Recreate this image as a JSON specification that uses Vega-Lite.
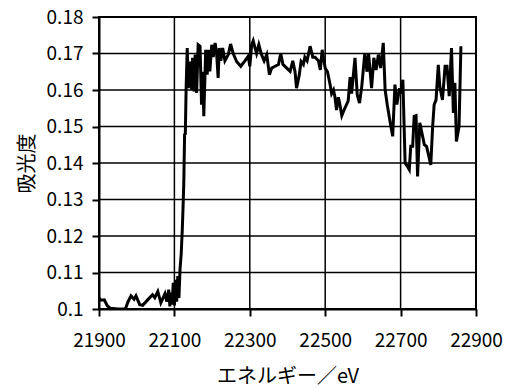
{
  "$schema": "https://vega.github.io/schema/vega-lite/v6.json",
  "width": 377,
  "height": 292,
  "autosize": {"type": "none"},
  "padding": {"left": 99, "top": 17, "right": 30, "bottom": 79},
  "background": "white",
  "config": {
    "view": {"stroke": "black", "strokeWidth": 2}
  },
  "datasets": {
    "gridx": [{"e": 22100}, {"e": 22300}, {"e": 22500}, {"e": 22700}],
    "gridy": [{"a": 0.11}, {"a": 0.12}, {"a": 0.13}, {"a": 0.14}, {"a": 0.15}, {"a": 0.16}, {"a": 0.17}],
    "spectrum": [
      {"e": 21900, "a": 0.1030}, {"e": 21905, "a": 0.1024}, {"e": 21914, "a": 0.1025}, {"e": 21922, "a": 0.1009},
      {"e": 21930, "a": 0.1002}, {"e": 21950, "a": 0.1000}, {"e": 21970, "a": 0.1000}, {"e": 21977, "a": 0.1020},
      {"e": 21985, "a": 0.1036}, {"e": 21993, "a": 0.1027}, {"e": 21998, "a": 0.1036}, {"e": 22008, "a": 0.1012},
      {"e": 22016, "a": 0.1010}, {"e": 22029, "a": 0.1025}, {"e": 22042, "a": 0.1039}, {"e": 22048, "a": 0.1031},
      {"e": 22056, "a": 0.1048}, {"e": 22064, "a": 0.1017}, {"e": 22075, "a": 0.1042}, {"e": 22080, "a": 0.1020},
      {"e": 22085, "a": 0.1053}, {"e": 22088, "a": 0.1007}, {"e": 22091, "a": 0.1045}, {"e": 22094, "a": 0.1012},
      {"e": 22097, "a": 0.1072}, {"e": 22100, "a": 0.1010}, {"e": 22103, "a": 0.1080}, {"e": 22106, "a": 0.1020},
      {"e": 22109, "a": 0.1090}, {"e": 22112, "a": 0.1030}, {"e": 22115, "a": 0.1110}, {"e": 22118, "a": 0.1150},
      {"e": 22121, "a": 0.1220}, {"e": 22123, "a": 0.1280}, {"e": 22125, "a": 0.1350}, {"e": 22127, "a": 0.1478},
      {"e": 22129, "a": 0.1480}, {"e": 22131, "a": 0.1600}, {"e": 22134, "a": 0.1715}, {"e": 22137, "a": 0.1605},
      {"e": 22141, "a": 0.1678}, {"e": 22146, "a": 0.1600}, {"e": 22148, "a": 0.1688}, {"e": 22152, "a": 0.1596},
      {"e": 22155, "a": 0.1697}, {"e": 22159, "a": 0.1592}, {"e": 22163, "a": 0.1724}, {"e": 22168, "a": 0.1720},
      {"e": 22172, "a": 0.1560}, {"e": 22175, "a": 0.1650}, {"e": 22178, "a": 0.1528}, {"e": 22183, "a": 0.1710},
      {"e": 22187, "a": 0.1642}, {"e": 22190, "a": 0.1710}, {"e": 22194, "a": 0.1651}, {"e": 22199, "a": 0.1724},
      {"e": 22203, "a": 0.1690}, {"e": 22208, "a": 0.1729}, {"e": 22212, "a": 0.1700}, {"e": 22216, "a": 0.1633},
      {"e": 22219, "a": 0.1715}, {"e": 22223, "a": 0.1680}, {"e": 22228, "a": 0.1715}, {"e": 22234, "a": 0.1680},
      {"e": 22243, "a": 0.1697}, {"e": 22249, "a": 0.1726}, {"e": 22256, "a": 0.1700}, {"e": 22265, "a": 0.1678},
      {"e": 22276, "a": 0.1665}, {"e": 22287, "a": 0.1680}, {"e": 22296, "a": 0.1693}, {"e": 22300, "a": 0.1665},
      {"e": 22305, "a": 0.1724}, {"e": 22309, "a": 0.1735}, {"e": 22314, "a": 0.1715}, {"e": 22318, "a": 0.1700},
      {"e": 22324, "a": 0.1724}, {"e": 22331, "a": 0.1697}, {"e": 22338, "a": 0.1680}, {"e": 22345, "a": 0.1697},
      {"e": 22352, "a": 0.1642}, {"e": 22358, "a": 0.1660}, {"e": 22367, "a": 0.1665}, {"e": 22376, "a": 0.1670},
      {"e": 22382, "a": 0.1700}, {"e": 22388, "a": 0.1670}, {"e": 22398, "a": 0.1660}, {"e": 22407, "a": 0.1651},
      {"e": 22414, "a": 0.1680}, {"e": 22420, "a": 0.1650}, {"e": 22424, "a": 0.1605}, {"e": 22431, "a": 0.1640},
      {"e": 22436, "a": 0.1678}, {"e": 22442, "a": 0.1670}, {"e": 22446, "a": 0.1690}, {"e": 22452, "a": 0.1680},
      {"e": 22460, "a": 0.1720}, {"e": 22467, "a": 0.1690}, {"e": 22473, "a": 0.1690}, {"e": 22482, "a": 0.1680},
      {"e": 22487, "a": 0.1655}, {"e": 22492, "a": 0.1710}, {"e": 22500, "a": 0.1660}, {"e": 22506, "a": 0.1650},
      {"e": 22513, "a": 0.1615}, {"e": 22517, "a": 0.1590}, {"e": 22522, "a": 0.1600}, {"e": 22526, "a": 0.1580},
      {"e": 22530, "a": 0.1545}, {"e": 22535, "a": 0.1580}, {"e": 22539, "a": 0.1560}, {"e": 22544, "a": 0.1530},
      {"e": 22552, "a": 0.1550}, {"e": 22561, "a": 0.1570}, {"e": 22566, "a": 0.1635}, {"e": 22570, "a": 0.1590},
      {"e": 22579, "a": 0.1688}, {"e": 22585, "a": 0.1587}, {"e": 22591, "a": 0.1564}, {"e": 22597, "a": 0.1610},
      {"e": 22605, "a": 0.1700}, {"e": 22611, "a": 0.1650}, {"e": 22615, "a": 0.1701}, {"e": 22623, "a": 0.1605},
      {"e": 22629, "a": 0.1688}, {"e": 22635, "a": 0.1655}, {"e": 22641, "a": 0.1697}, {"e": 22647, "a": 0.1660},
      {"e": 22654, "a": 0.1729}, {"e": 22659, "a": 0.1600}, {"e": 22665, "a": 0.1557}, {"e": 22672, "a": 0.1514},
      {"e": 22679, "a": 0.1473}, {"e": 22685, "a": 0.1615}, {"e": 22690, "a": 0.1560}, {"e": 22697, "a": 0.1605},
      {"e": 22700, "a": 0.1590}, {"e": 22706, "a": 0.1628}, {"e": 22712, "a": 0.1400}, {"e": 22718, "a": 0.1391},
      {"e": 22723, "a": 0.1382}, {"e": 22727, "a": 0.1446}, {"e": 22732, "a": 0.1446}, {"e": 22736, "a": 0.1528},
      {"e": 22741, "a": 0.1530}, {"e": 22745, "a": 0.1363}, {"e": 22751, "a": 0.1510}, {"e": 22755, "a": 0.1490},
      {"e": 22763, "a": 0.1450}, {"e": 22769, "a": 0.1445}, {"e": 22775, "a": 0.1418}, {"e": 22780, "a": 0.1395},
      {"e": 22785, "a": 0.1500}, {"e": 22789, "a": 0.1560}, {"e": 22794, "a": 0.1573}, {"e": 22800, "a": 0.1669},
      {"e": 22804, "a": 0.1610}, {"e": 22811, "a": 0.1573}, {"e": 22818, "a": 0.1665}, {"e": 22823, "a": 0.1665},
      {"e": 22829, "a": 0.1583}, {"e": 22835, "a": 0.1715}, {"e": 22840, "a": 0.1537}, {"e": 22844, "a": 0.1620},
      {"e": 22848, "a": 0.1459}, {"e": 22855, "a": 0.1500}, {"e": 22860, "a": 0.1720}
    ]
  },
  "layer": [
    {
      "data": {"name": "gridx"},
      "mark": {"type": "rule", "color": "black", "strokeWidth": 1.5},
      "encoding": {
        "x": {"field": "e", "type": "quantitative", "scale": {"domain": [21900, 22900], "nice": false, "zero": false}}
      }
    },
    {
      "data": {"name": "gridy"},
      "mark": {"type": "rule", "color": "black", "strokeWidth": 1.5},
      "encoding": {
        "y": {
          "field": "a",
          "type": "quantitative",
          "scale": {"domain": [0.1, 0.18], "nice": false, "zero": false},
          "axis": {
            "grid": false,
            "values": [0.1, 0.11, 0.12, 0.13, 0.14, 0.15, 0.16, 0.17, 0.18],
            "format": ".2~f",
            "title": "吸光度",
            "labelFlush": false,
            "labelOverlap": false,
            "labelFont": "Noto Sans CJK JP",
            "labelFontSize": 19,
            "labelColor": "black",
            "labelPadding": 9,
            "titleFont": "Noto Sans CJK JP",
            "titleFontSize": 20,
            "titleFontWeight": "normal",
            "titleColor": "black",
            "titlePadding": 9,
            "domainColor": "black",
            "domainWidth": 2,
            "tickColor": "black",
            "tickWidth": 2,
            "tickSize": 7
          }
        }
      }
    },
    {
      "data": {"name": "spectrum"},
      "mark": {"type": "line", "color": "black", "strokeWidth": 3, "clip": true},
      "encoding": {
        "x": {
          "field": "e",
          "type": "quantitative",
          "scale": {"domain": [21900, 22900], "nice": false, "zero": false},
          "axis": {
            "grid": false,
            "values": [21900, 22100, 22300, 22500, 22700, 22900],
            "format": "d",
            "title": "エネルギー／eV",
            "labelFlush": false,
            "labelOverlap": false,
            "labelFont": "Noto Sans CJK JP",
            "labelFontSize": 19,
            "labelColor": "black",
            "labelPadding": 15,
            "titleFont": "Noto Sans CJK JP",
            "titleFontSize": 20,
            "titleFontWeight": "normal",
            "titleColor": "black",
            "titlePadding": 16,
            "domainColor": "black",
            "domainWidth": 2,
            "tickColor": "black",
            "tickWidth": 2,
            "tickSize": 7
          }
        },
        "y": {
          "field": "a",
          "type": "quantitative",
          "scale": {"domain": [0.1, 0.18], "nice": false, "zero": false},
          "axis": {
            "grid": false,
            "values": [0.1, 0.11, 0.12, 0.13, 0.14, 0.15, 0.16, 0.17, 0.18],
            "format": ".2~f",
            "title": "吸光度",
            "labelFlush": false,
            "labelOverlap": false,
            "labelFont": "Noto Sans CJK JP",
            "labelFontSize": 19,
            "labelColor": "black",
            "labelPadding": 9,
            "titleFont": "Noto Sans CJK JP",
            "titleFontSize": 20,
            "titleFontWeight": "normal",
            "titleColor": "black",
            "titlePadding": 9,
            "domainColor": "black",
            "domainWidth": 2,
            "tickColor": "black",
            "tickWidth": 2,
            "tickSize": 7
          }
        }
      }
    }
  ]
}
